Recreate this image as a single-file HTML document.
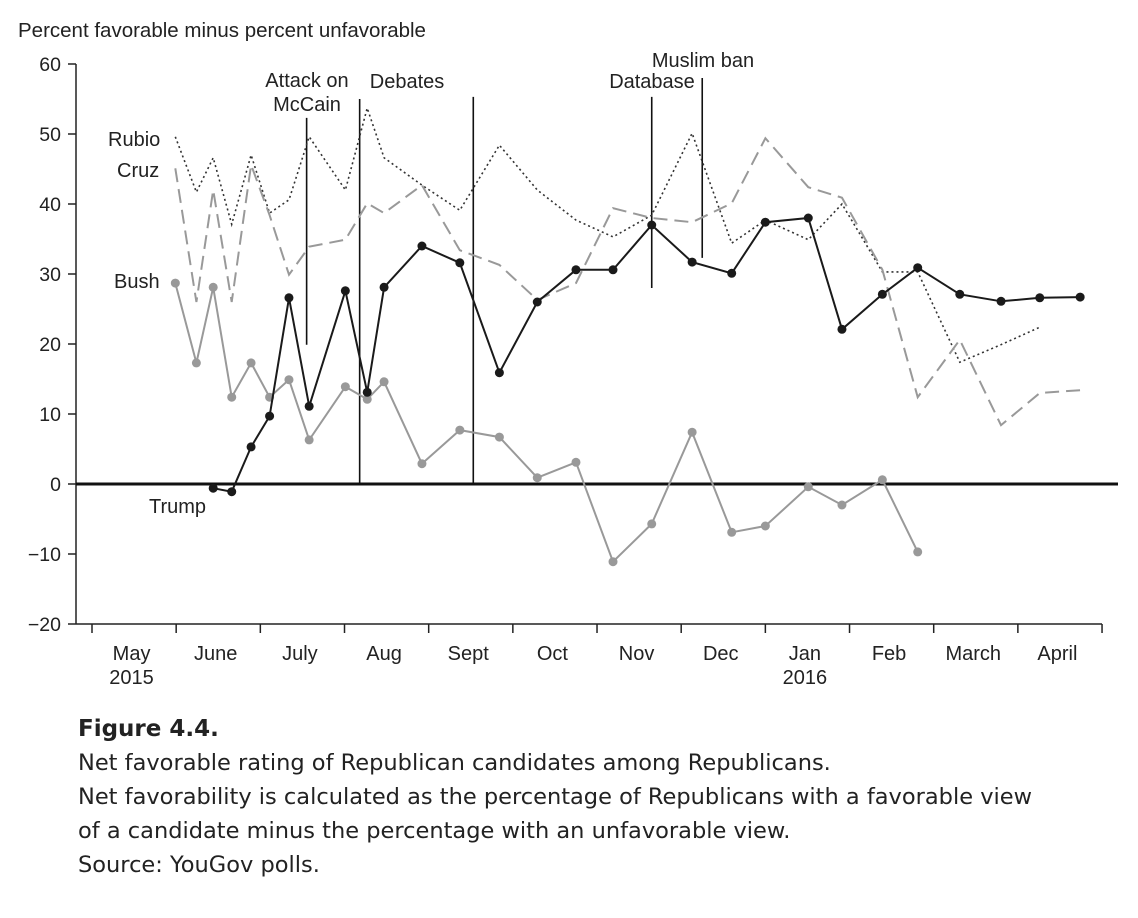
<!DOCTYPE html>
<html><head><meta charset="utf-8"><style>
body{margin:0;background:#fff;width:1138px;height:918px;overflow:hidden;font-family:"Liberation Sans",sans-serif}
#cap{position:absolute;left:78px;top:712px;font-family:"DejaVu Sans","Liberation Sans",sans-serif;color:#222;font-size:22.5px;line-height:34px}
</style></head><body>
<svg id="chart" width="1138" height="700" style="position:absolute;left:0;top:0" font-family="Liberation Sans, sans-serif"></svg>
<div id="cap"><b style="font-size:23px">Figure 4.4.</b><br>Net favorable rating of Republican candidates among Republicans.<br>Net favorability is calculated as the percentage of Republicans with a favorable view<br>of a candidate minus the percentage with an unfavorable view.<br>Source: YouGov polls.</div>
<script>
const months=["May","June","July","Aug","Sept","Oct","Nov","Dec","Jan","Feb","March","April"];
const yTicks=[60,50,40,30,20,10,0,-10,-20];
const dates=[0.99,1.24,1.44,1.66,1.89,2.11,2.34,2.58,3.01,3.27,3.47,3.92,4.37,4.84,5.29,5.75,6.19,6.65,7.13,7.60,8.00,8.51,8.91,9.39,9.81,10.31,10.80,11.26,11.74];
const trump=[null,null,-0.6,-1.1,5.3,9.7,26.6,11.1,27.6,13.1,28.1,34,31.6,15.9,26,30.6,30.6,37,31.7,30.1,37.4,38,22.1,27.1,30.9,27.1,26.1,26.6,26.7];
const bush=[28.7,17.3,28.1,12.4,17.3,12.4,14.9,6.3,13.9,12.1,14.6,2.9,7.7,6.7,0.9,3.1,-11.1,-5.7,7.4,-6.9,-6,-0.4,-3,0.6,-9.7,null,null,null,null];
const rubio=[49.6,41.7,46.6,37.1,47,38.7,40.6,49.6,42,53.7,46.6,42.7,39.1,48.4,42,37.7,35.3,38.4,50.1,34.4,37.7,34.9,40,30.3,30.3,17.4,19.9,22.4,null];
const cruz=[45.1,26,42,26,45.6,38.4,29.9,33.9,34.9,40.1,38.7,42.7,33.4,31.3,26.3,28.7,39.4,38,37.4,40.1,49.4,42.4,40.9,30.6,12.4,20.6,8.4,13,13.4];
const eventDates=[2.55,3.18,4.53,6.65,7.25];
const eventTops=[52.3,55,55.3,55.3,58];
const eventBottoms=[19.9,0,0,28,32.3];
const svg=document.getElementById('chart');const NS='http://www.w3.org/2000/svg';
const X=m=>92+m*84.17, Y=v=>484-v*7;
function el(t,a,txt){const e=document.createElementNS(NS,t);for(const k in a)e.setAttribute(k,a[k]);if(txt!=null)e.textContent=txt;svg.appendChild(e);return e;}
let t=el('text',{x:18,y:37,'font-size':20.5,fill:'#222'},'Percent favorable minus percent unfavorable');


let a=el('line',{x1:76,y1:Y(60),x2:76,y2:Y(-20),stroke:'#222','stroke-width':1.5});


a=el('line',{x1:76,y1:Y(-20),x2:1102,y2:Y(-20),stroke:'#222','stroke-width':1.5});


yTicks.forEach(v=>{el('line',{x1:68,x2:76,y1:Y(v),y2:Y(v),stroke:'#222','stroke-width':1.5});
 const tt=el('text',{x:61,y:Y(v)+7,'text-anchor':'end','font-size':19.5,fill:'#222'},v<0?'\u2212'+(-v):v);
 
 });
for(let i=0;i<=12;i++)el('line',{x1:X(i),x2:X(i),y1:Y(-20),y2:Y(-20)+9,stroke:'#222','stroke-width':1.5});
months.forEach((m,i)=>{const tt=el('text',{x:X(i+0.47),y:660,'text-anchor':'middle','font-size':20,fill:'#222'},m);
 
 });
[['2015',0.47],['2016',8.47]].forEach(p=>{const tt=el('text',{x:X(p[1]),y:684,'text-anchor':'middle','font-size':20,fill:'#222'},p[0]);
 
 });
a=el('line',{x1:76,x2:1118,y1:Y(0),y2:Y(0),stroke:'#111','stroke-width':3});


eventDates.forEach((d,i)=>{const l=el('line',{x1:X(d),x2:X(d),y1:Y(eventTops[i]),y2:Y(eventBottoms[i]),stroke:'#111','stroke-width':1.6});
 
 });
[[307,87,'Attack on'],[307,111,'McCain'],[407,88,'Debates'],[652,88,'Database'],[703,67,'Muslim ban']].forEach(p=>{const tt=el('text',{x:p[0],y:p[1],'text-anchor':'middle','font-size':20,fill:'#222'},p[2]);
 
 });
function series(vals,name,color,dash,w,dots){let d='',pen=false;vals.forEach((v,i)=>{if(v==null){pen=false;return;}d+=(pen?'L':'M')+X(dates[i]).toFixed(1)+' '+Y(v).toFixed(1);pen=true;});
 const p=el('path',{d:d,fill:'none',stroke:color,'stroke-width':w,'stroke-dasharray':dash||'none'});
 
 
 if(dots)vals.forEach((v,i)=>{if(v==null)return;const c=el('circle',{cx:X(dates[i]),cy:Y(v),r:4.5,fill:color});
  
  });}
series(rubio,'rubio','#333','2 3',1.6,false);
series(cruz,'cruz','#999','14 7',2,false);
series(bush,'bush','#999',null,2,true);
series(trump,'trump','#1a1a1a',null,2,true);
[[108,146,'Rubio'],[117,177,'Cruz'],[114,288,'Bush'],[149,513,'Trump']].forEach(p=>{const tt=el('text',{x:p[0],y:p[1],'font-size':20,fill:'#222'},p[2]);
 
 });
</script>
</body></html>
